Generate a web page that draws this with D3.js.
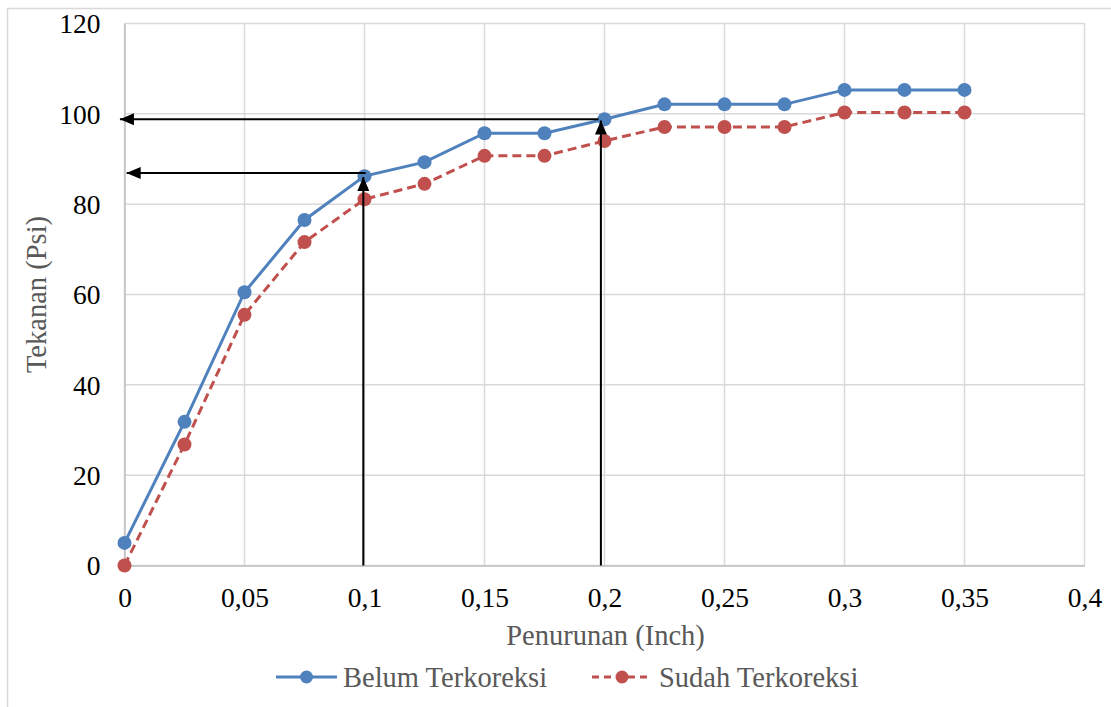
<!DOCTYPE html>
<html>
<head>
<meta charset="utf-8">
<script src="https://cdn.jsdelivr.net/npm/d3@7"></script>
<style>
  html, body { margin: 0; padding: 0; background: #fff; }
  svg { display: block; }
  svg text { font-family: "Liberation Serif", "Times New Roman", serif; }
</style>
</head>
<body>
<svg id="chart" width="1111" height="707"></svg>
<script>
// Penurunan (inch) readings
const penurunan = [0, 0.025, 0.05, 0.075, 0.1, 0.125, 0.15, 0.175, 0.2, 0.225, 0.25, 0.275, 0.3, 0.325, 0.35];
// Tekanan (psi), uncorrected curve
const belumTerkoreksi = [5, 31.8, 60.5, 76.5, 86.2, 89.3, 95.7, 95.7, 98.8, 102.1, 102.1, 102.1, 105.3, 105.3, 105.3];
// Tekanan (psi), corrected curve
const sudahTerkoreksi = [0, 26.8, 55.5, 71.6, 81.1, 84.5, 90.7, 90.7, 94.0, 97.1, 97.1, 97.1, 100.3, 100.3, 100.3];

const xTicks = [0, 0.05, 0.1, 0.15, 0.2, 0.25, 0.3, 0.35, 0.4];
const yTicks = [0, 20, 40, 60, 80, 100, 120];

// Reading lines: vertical from the axis up to a point, then horizontal back to the y axis
const verticalArrows = [
  { x: 0.0995, y0: 0, y1: 86.0 },
  { x: 0.1985, y0: 0, y1: 98.5 }
];
const horizontalArrows = [
  { y: 86.9, x0: 0.1005, x1: 0.0009 },
  { y: 98.8, x0: 0.1975, x1: -0.0019 }
];

const series = [
  { name: "Belum Terkoreksi", values: belumTerkoreksi, color: "#4f81bd", dash: null },
  { name: "Sudah Terkoreksi", values: sudahTerkoreksi, color: "#c0504d", dash: "9,5" }
];

const FONT = '"Liberation Serif", "Times New Roman", serif';
const svg = d3.select("#chart");
const W = 1111, H = 707;
const plot = { left: 124.5, right: 1084.5, top: 23.5, bottom: 565.5 };

const x = d3.scaleLinear().domain([0, 0.4]).range([plot.left, plot.right]);
const y = d3.scaleLinear().domain([0, 120]).range([plot.bottom, plot.top]);

const fmt = d => String(d).replace(".", ",");

// chart frame
svg.append("rect")
  .attr("x", 7.5).attr("y", 8.5).attr("width", W + 10).attr("height", H + 10)
  .attr("fill", "#fff").attr("stroke", "#d9d9d9").attr("stroke-width", 1.5);

// gridlines
const grid = svg.append("g");
grid.selectAll(".gx").data(xTicks).join("line")
  .attr("x1", d => x(d)).attr("x2", d => x(d))
  .attr("y1", plot.top).attr("y2", plot.bottom)
  .attr("stroke", "#d9d9d9").attr("stroke-width", 1.5);
grid.selectAll(".gy").data(yTicks).join("line")
  .attr("x1", plot.left).attr("x2", plot.right)
  .attr("y1", d => y(d)).attr("y2", d => y(d))
  .attr("stroke", "#d9d9d9").attr("stroke-width", 1.5);

// axes
const xAxis = svg.append("g")
  .attr("transform", `translate(0,${plot.bottom})`)
  .call(d3.axisBottom(x).tickValues(xTicks).tickFormat(fmt).tickSize(0).tickPadding(41));
const yAxis = svg.append("g")
  .attr("transform", `translate(${plot.left},0)`)
  .call(d3.axisLeft(y).tickValues(yTicks).tickSize(0).tickPadding(24));
[xAxis, yAxis].forEach(g => {
  g.attr("font-family", FONT);
  g.select(".domain").attr("stroke", "#bfbfbf").attr("stroke-width", 1.5);
  g.selectAll("text")
    .style("font-family", FONT)
    .attr("font-size", 27.5).attr("fill", "#000");
});
xAxis.selectAll("text").attr("dy", "0");
yAxis.selectAll("text").attr("dy", "0.34em");

// axis titles
svg.append("text")
  .attr("x", (plot.left + plot.right) / 2 + 1).attr("y", 645)
  .attr("text-anchor", "middle").attr("font-size", 28.5).attr("fill", "#595959")
  .style("font-family", FONT)
  .text("Penurunan (Inch)");
svg.append("text")
  .attr("transform", `translate(46,${(plot.top + plot.bottom) / 2}) rotate(-90)`)
  .attr("text-anchor", "middle").attr("font-size", 28.5).attr("fill", "#595959")
  .style("font-family", FONT)
  .text("Tekanan (Psi)");

// series
const line = d3.line().x((d, i) => x(penurunan[i])).y(d => y(d));
const sg = svg.append("g");
series.forEach(s => {
  sg.append("path")
    .attr("d", line(s.values))
    .attr("fill", "none").attr("stroke", s.color).attr("stroke-width", 3)
    .attr("stroke-dasharray", s.dash);
  sg.selectAll(null).data(s.values).join("circle")
    .attr("cx", (d, i) => x(penurunan[i])).attr("cy", d => y(d))
    .attr("r", 7).attr("fill", s.color);
});

// arrowhead marker
svg.append("defs").append("marker")
  .attr("id", "arrowhead")
  .attr("viewBox", "0 0 14 12")
  .attr("refX", 14).attr("refY", 6)
  .attr("markerWidth", 14).attr("markerHeight", 12)
  .attr("markerUnits", "userSpaceOnUse")
  .attr("orient", "auto")
  .append("path").attr("d", "M0,0 L14,6 L0,12 Z").attr("fill", "#000");

const ag = svg.append("g");
ag.selectAll(".va").data(verticalArrows).join("line")
  .attr("x1", d => x(d.x)).attr("x2", d => x(d.x))
  .attr("y1", d => y(d.y0)).attr("y2", d => y(d.y1))
  .attr("stroke", "#000").attr("stroke-width", 2)
  .attr("marker-end", "url(#arrowhead)");
ag.selectAll(".ha").data(horizontalArrows).join("line")
  .attr("x1", d => x(d.x0)).attr("x2", d => x(d.x1))
  .attr("y1", d => y(d.y)).attr("y2", d => y(d.y))
  .attr("stroke", "#000").attr("stroke-width", 2)
  .attr("marker-end", "url(#arrowhead)");

// legend
const legendY = 677;
const legendItems = [
  { s: series[0], x0: 276, x1: 337, tx: 343 },
  { s: series[1], x0: 592, x1: 652, tx: 659 }
];
const lg = svg.append("g");
legendItems.forEach(it => {
  lg.append("line")
    .attr("x1", it.x0).attr("x2", it.x1).attr("y1", legendY).attr("y2", legendY)
    .attr("stroke", it.s.color).attr("stroke-width", 3)
    .attr("stroke-dasharray", it.s.dash ? "7,5" : null);
  lg.append("circle")
    .attr("cx", (it.x0 + it.x1) / 2).attr("cy", legendY).attr("r", 6.5)
    .attr("fill", it.s.color);
  lg.append("text")
    .attr("x", it.tx).attr("y", legendY).attr("dy", "0.34em")
    .attr("font-size", 28.5).attr("fill", "#595959")
    .style("font-family", FONT)
    .text(it.s.name);
});
</script>
</body>
</html>
